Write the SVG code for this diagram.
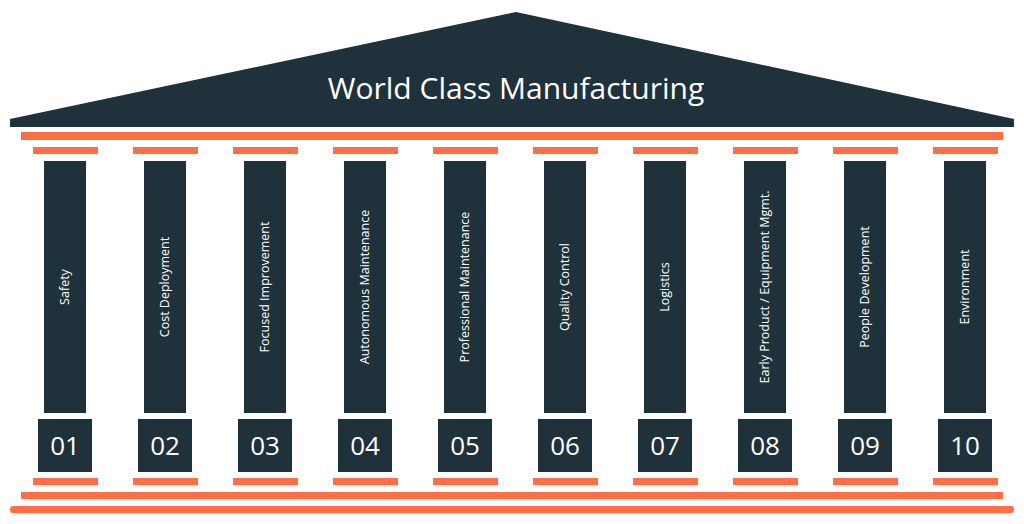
<svg xmlns="http://www.w3.org/2000/svg" width="1024" height="524" viewBox="0 0 1024 524">
<style>
.d{fill:#1f313a}.o{fill:#ff6e45}
.t{font-family:"Open Sans","Liberation Sans",sans-serif;fill:#fff}
.l{font-size:12.5px;text-anchor:middle}
.n{font-size:26px;text-anchor:middle}
</style>
<rect width="1024" height="524" fill="#fff"/>
<g id="roof"><polygon class="d" points="10,119 516,12 1014,119 1014,127 10,127"/>
<text class="t" x="516" y="99" font-size="30" text-anchor="middle">World Class Manufacturing</text></g>
<g id="base">
<rect class="o" x="21" y="132" width="982" height="8"/>
<rect class="o" x="21" y="492" width="982" height="7"/>
<rect class="o" x="10" y="506" width="1004" height="7" rx="3"/>
</g>
<g id="c1"><rect class="o" x="33" y="147" width="65" height="7"/><rect class="d" x="44" y="161" width="42" height="252"/><rect class="d" x="38" y="419" width="54" height="53"/><rect class="o" x="33" y="478" width="65" height="7"/><text class="t l" transform="translate(69,287) rotate(-90)">Safety</text><text class="t n" x="65" y="455">01</text></g>
<g id="c2"><rect class="o" x="133" y="147" width="65" height="7"/><rect class="d" x="144" y="161" width="42" height="252"/><rect class="d" x="138" y="419" width="54" height="53"/><rect class="o" x="133" y="478" width="65" height="7"/><text class="t l" transform="translate(169,287) rotate(-90)">Cost Deployment</text><text class="t n" x="165" y="455">02</text></g>
<g id="c3"><rect class="o" x="233" y="147" width="65" height="7"/><rect class="d" x="244" y="161" width="42" height="252"/><rect class="d" x="238" y="419" width="54" height="53"/><rect class="o" x="233" y="478" width="65" height="7"/><text class="t l" transform="translate(269,287) rotate(-90)">Focused Improvement</text><text class="t n" x="265" y="455">03</text></g>
<g id="c4"><rect class="o" x="333" y="147" width="65" height="7"/><rect class="d" x="344" y="161" width="42" height="252"/><rect class="d" x="338" y="419" width="54" height="53"/><rect class="o" x="333" y="478" width="65" height="7"/><text class="t l" transform="translate(369,287) rotate(-90)">Autonomous Maintenance</text><text class="t n" x="365" y="455">04</text></g>
<g id="c5"><rect class="o" x="433" y="147" width="65" height="7"/><rect class="d" x="444" y="161" width="42" height="252"/><rect class="d" x="438" y="419" width="54" height="53"/><rect class="o" x="433" y="478" width="65" height="7"/><text class="t l" transform="translate(469,287) rotate(-90)">Professional Maintenance</text><text class="t n" x="465" y="455">05</text></g>
<g id="c6"><rect class="o" x="533" y="147" width="65" height="7"/><rect class="d" x="544" y="161" width="42" height="252"/><rect class="d" x="538" y="419" width="54" height="53"/><rect class="o" x="533" y="478" width="65" height="7"/><text class="t l" transform="translate(569,287) rotate(-90)">Quality Control</text><text class="t n" x="565" y="455">06</text></g>
<g id="c7"><rect class="o" x="633" y="147" width="65" height="7"/><rect class="d" x="644" y="161" width="42" height="252"/><rect class="d" x="638" y="419" width="54" height="53"/><rect class="o" x="633" y="478" width="65" height="7"/><text class="t l" transform="translate(669,287) rotate(-90)">Logistics</text><text class="t n" x="665" y="455">07</text></g>
<g id="c8"><rect class="o" x="733" y="147" width="65" height="7"/><rect class="d" x="744" y="161" width="42" height="252"/><rect class="d" x="738" y="419" width="54" height="53"/><rect class="o" x="733" y="478" width="65" height="7"/><text class="t l" transform="translate(769,287) rotate(-90)">Early Product / Equipment  Mgmt.</text><text class="t n" x="765" y="455">08</text></g>
<g id="c9"><rect class="o" x="833" y="147" width="65" height="7"/><rect class="d" x="844" y="161" width="42" height="252"/><rect class="d" x="838" y="419" width="54" height="53"/><rect class="o" x="833" y="478" width="65" height="7"/><text class="t l" transform="translate(869,287) rotate(-90)">People Development</text><text class="t n" x="865" y="455">09</text></g>
<g id="c10"><rect class="o" x="933" y="147" width="65" height="7"/><rect class="d" x="944" y="161" width="42" height="252"/><rect class="d" x="938" y="419" width="54" height="53"/><rect class="o" x="933" y="478" width="65" height="7"/><text class="t l" transform="translate(969,287) rotate(-90)">Environment</text><text class="t n" x="965" y="455">10</text></g>
<g id="connectors"/>
</svg>
